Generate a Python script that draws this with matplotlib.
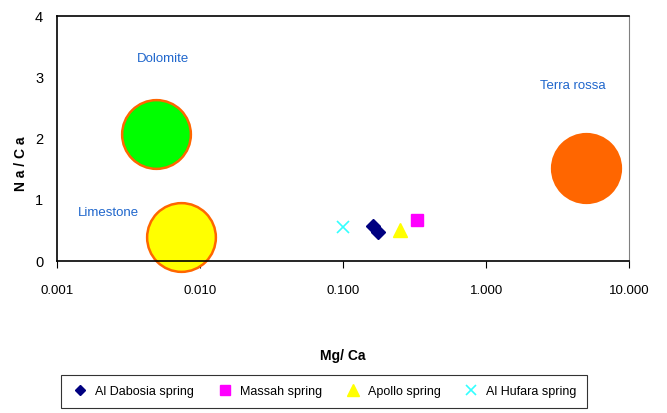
import matplotlib
matplotlib.use('Agg')
import matplotlib.pyplot as plt

plt.rcParams['font.family'] = ['Liberation Sans', 'DejaVu Sans']

# rock end-members (large circles)
rock_names = ['Dolomite', 'Limestone', 'Terra rossa']
rock_mgca = [0.0049, 0.0073, 5.0]
rock_naca = [2.08, 0.39, 1.52]
rock_face = ['#00ff00', '#ffff00', '#ff6600']
rock_edge = ['#ff6600', '#ff6600', '#ff6600']
label_x = [0.0055, 0.0023, 4.05]
label_y = [3.3, 0.78, 2.86]

# springs
springs = ['Al Dabosia spring', 'Massah spring', 'Apollo spring', 'Al Hufara spring']
spring_mgca = [[0.162, 0.176], [0.33], [0.25], [0.10]]
spring_naca = [[0.57, 0.48], [0.67], [0.50], [0.55]]
spring_marker = ['D', 's', '^', 'x']
spring_color = ['#000080', '#ff00ff', '#ffff00', '#33ffff']
spring_size = [7, 9, 10, 9]

fig = plt.figure(figsize=(6.67, 4.13), dpi=100)
ax = fig.add_axes([0.0855, 0.368, 0.858, 0.593])

for i in range(3):
    ax.scatter([rock_mgca[i]], [rock_naca[i]], s=2450, c=rock_face[i],
               edgecolors=rock_edge[i], linewidths=1.8, zorder=2, clip_on=False)
    ax.text(label_x[i], label_y[i], rock_names[i], color='#1f66cc',
            fontsize=9.5, ha='center', va='center')

handles = []
for i in range(4):
    h, = ax.plot(spring_mgca[i], spring_naca[i], linestyle='none',
                 marker=spring_marker[i], color=spring_color[i],
                 markersize=spring_size[i], markeredgewidth=1 if i < 3 else 1.2,
                 zorder=3)
    handles.append(h)

ax.set_xscale('log')
ax.set_xlim(0.001, 10)
ax.set_ylim(0, 4)
ax.set_xticks([0.001, 0.01, 0.1, 1, 10])
ax.set_xticklabels(['0.001', '0.010', '0.100', '1.000', '10.000'])
ax.xaxis.set_minor_locator(matplotlib.ticker.NullLocator())
ax.set_yticks([0, 1, 2, 3, 4])
ax.tick_params(axis='x', direction='out', length=5, pad=12, labelsize=9.5)
ax.tick_params(axis='y', length=0, pad=10, labelsize=10.5)
for s in ['top', 'bottom', 'left']:
    ax.spines[s].set_color('black')
    ax.spines[s].set_linewidth(1.2)
ax.spines['right'].set_color('#808080')

ax.set_xlabel('Mg/ Ca', fontweight='bold', fontsize=10, labelpad=38)
ax.set_ylabel('N a / C a', fontweight='bold', fontsize=10)
ax.yaxis.set_label_coords(-0.051, 0.396)

leg = fig.legend(handles, springs, loc='lower center', ncol=4,
                 bbox_to_anchor=(0.486, -0.004), frameon=True, fancybox=False,
                 edgecolor='black', fontsize=9, handletextpad=0.5,
                 columnspacing=1.75, borderpad=0.85, handlelength=1.4,
                 markerscale=0.8)
leg.get_frame().set_linewidth(0.8)

fig.savefig('out.png', dpi=100)
